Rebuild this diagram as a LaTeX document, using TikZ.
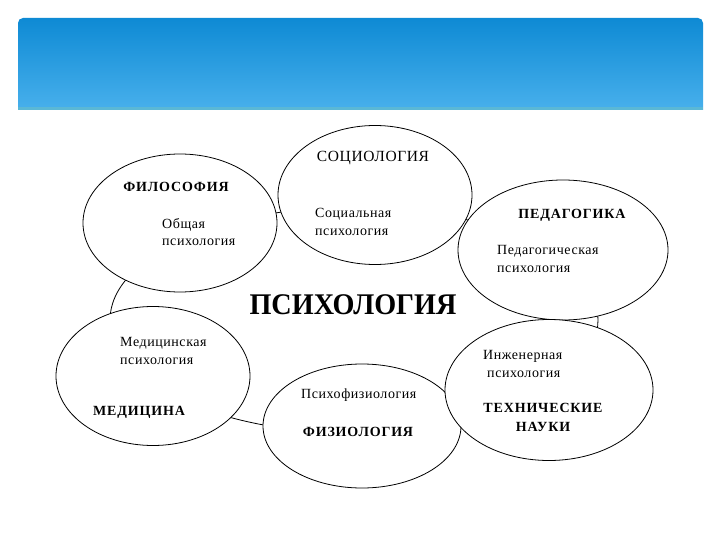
\documentclass[tikz,border=0pt]{standalone}
\usepackage{fontspec}
\setmainfont{Liberation Serif}
\newfontfamily\bodyfont[LetterSpace=4]{Liberation Serif}
\newfontfamily\capfont[LetterSpace=6]{Liberation Serif}
\newfontfamily\socfont[LetterSpace=4]{Liberation Serif}
\usetikzlibrary{shapes.geometric}
\definecolor{bandtop}{RGB}{14,138,212}
\definecolor{bandbot}{RGB}{72,176,236}
\definecolor{bandedge}{RGB}{90,184,214}
\tikzset{
  field/.style={ellipse, draw=black, line width=0.8pt, fill=white, inner sep=0pt},
  body/.style={font=\bodyfont\fontsize{14}{17.5}\selectfont, inner sep=0pt, align=left, anchor=west},
  head/.style={font=\capfont\bfseries\fontsize{14}{19}\selectfont, inner sep=0pt, align=center},
  headreg/.style={font=\socfont\fontsize{15.5}{17}\selectfont, inner sep=0pt, align=center},
}
\begin{document}
\begin{tikzpicture}[x=1pt,y=-1pt]
\useasboundingbox (0,0) rectangle (720,540);
\fill[white] (0,0) rectangle (720,540);
% header band
\shade[top color=bandtop, bottom color=bandbot]
  (18,110) [rounded corners=5pt] -- (18,18) -- (703,18) [sharp corners] -- (703,110) -- cycle;
\fill[bandedge] (18,107) rectangle (703,110);
% big ellipse
\node[field, minimum width=488pt, minimum height=226pt] (psy) at (354,320) {};
% small ellipses
\node[field, minimum width=194pt, minimum height=138pt] (phil) at (180,223) {};
\node[field, minimum width=194pt, minimum height=139pt] (soc) at (375,195) {};
\node[field, minimum width=210pt, minimum height=140pt] (ped) at (563,250) {};
\node[field, minimum width=194pt, minimum height=139pt] (med) at (153,376) {};
\node[field, minimum width=198pt, minimum height=124pt] (phys) at (362,426) {};
\node[field, minimum width=208pt, minimum height=141pt] (tech) at (549,390) {};
% texts
\node[font=\bfseries\fontsize{30}{32}\selectfont, inner sep=0pt, xscale=0.94] (title) at (353,305) {ПСИХОЛОГИЯ};
\node[head] (philT) at (176,187) {ФИЛОСОФИЯ};
\node[body] (philB) at (162,232) {Общая\\психология};
\node[headreg] (socT) at (373,158) {СОЦИОЛОГИЯ};
\node[body] (socB) at (315,222) {Социальная\\психология};
\node[head] (pedT) at (572,215) {ПЕДАГОГИКА};
\node[body] (pedB) at (497,259) {Педагогическая\\психология};
\node[body] (medB) at (120,351) {Медицинская\\психология};
\node[head] (medT) at (139,412) {МЕДИЦИНА};
\node[body] (physB) at (301,395) {Психофизиология};
\node[head] (physT) at (358,432) {ФИЗИОЛОГИЯ};
\node[body] (techB) at (483,364) {Инженерная\\\hspace*{4pt}психология};
\node[head] (techT) at (543,417) {ТЕХНИЧЕСКИЕ\\НАУКИ};
\end{tikzpicture}
\end{document}
